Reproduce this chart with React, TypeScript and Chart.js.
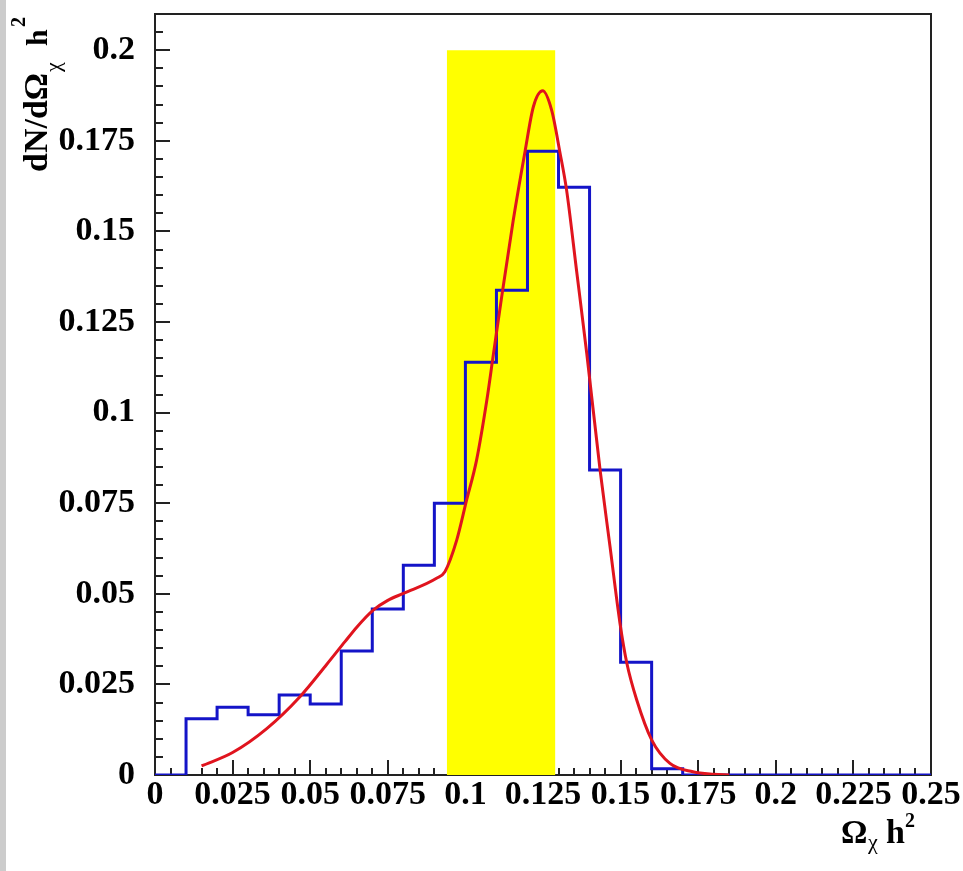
import React, { useEffect, useRef } from "react";
import { Chart, registerables } from "chart.js";

Chart.register(...registerables);

// ---- Data ----
const binLowEdges = [
  0.0, 0.01, 0.02, 0.03, 0.04, 0.05, 0.06, 0.07, 0.08, 0.09, 0.1, 0.11, 0.12,
  0.13, 0.14, 0.15, 0.16, 0.17, 0.18, 0.19, 0.2, 0.21, 0.22, 0.23, 0.24,
];
const binContents = [
  0, 0.0155, 0.0187, 0.0166, 0.0221, 0.0196, 0.0342, 0.0458, 0.0579, 0.075,
  0.1139, 0.1338, 0.1721, 0.1622, 0.0842, 0.0311, 0.0017, 0, 0, 0, 0, 0, 0, 0, 0,
];
const histUpperEdge = 0.25;

const fitX = [
  0.015, 0.025, 0.036, 0.0467, 0.0553, 0.0612, 0.065, 0.0703, 0.075, 0.08,
  0.0907, 0.0934, 0.0972, 0.1004, 0.1036, 0.1069, 0.109, 0.1117, 0.1154, 0.1192,
  0.1219, 0.1249, 0.1278, 0.1305, 0.1326, 0.1358, 0.1391, 0.1434, 0.1466, 0.1498,
  0.152, 0.1552, 0.16, 0.1659, 0.1733, 0.18, 0.185,
];
const fitY = [
  0.0025, 0.0062, 0.0128, 0.0216, 0.0305, 0.0368, 0.0408, 0.0455, 0.0482, 0.0501,
  0.0543, 0.0561, 0.0648, 0.0759, 0.0869, 0.1034, 0.116, 0.132, 0.153, 0.172,
  0.1844, 0.1888, 0.1834, 0.1716, 0.1614, 0.1393, 0.1163, 0.0841, 0.063, 0.0419,
  0.0309, 0.0207, 0.0097, 0.0032, 0.0009, 0.0002, 0,
];

const bandRange = [0.094, 0.129];
const bandTop = 0.2;

const xTickValues = [0, 0.025, 0.05, 0.075, 0.1, 0.125, 0.15, 0.175, 0.2, 0.225, 0.25];
const xTickLabels = ["0", "0.025", "0.05", "0.075", "0.1", "0.125", "0.15", "0.175", "0.2", "0.225", "0.25"];
const yTickValues = [0, 0.025, 0.05, 0.075, 0.1, 0.125, 0.15, 0.175, 0.2];
const yTickLabels = ["0", "0.025", "0.05", "0.075", "0.1", "0.125", "0.15", "0.175", "0.2"];

const xMin = 0;
const xMax = 0.25;
const yMin = 0;
const yMax = 0.21;
const minorStep = 0.005;

const SERIF = '"Liberation Serif", "Times New Roman", serif';

const rootFramePlugin = {
  id: "rootFrame",
  beforeDatasetsDraw(chart: any) {
    const { ctx, chartArea } = chart;
    const xs = chart.scales.x;
    const ys = chart.scales.y;
    ctx.save();
    ctx.strokeStyle = "#222";
    ctx.lineWidth = 2;
    ctx.strokeRect(chartArea.left, chartArea.top, chartArea.right - chartArea.left, chartArea.bottom - chartArea.top);
    ctx.lineWidth = 2;
    ctx.beginPath();
    const nx = Math.round((xMax - xMin) / minorStep);
    for (let k = 0; k <= nx; k++) {
      const v = xMin + k * minorStep;
      const px = Math.round(xs.getPixelForValue(v));
      const len = k % 5 === 0 ? 15 : 7;
      ctx.moveTo(px, chartArea.bottom);
      ctx.lineTo(px, chartArea.bottom - len);
    }
    const ny = Math.floor((yMax - yMin) / minorStep + 1e-6);
    for (let k = 0; k <= ny; k++) {
      const v = yMin + k * minorStep;
      const py = Math.round(ys.getPixelForValue(v));
      const len = k % 5 === 0 ? 15 : 8;
      ctx.moveTo(chartArea.left, py);
      ctx.lineTo(chartArea.left + len, py);
    }
    ctx.stroke();
    ctx.restore();
  },
  afterDraw(chart: any) {
    const { ctx } = chart;
    ctx.save();
    ctx.fillStyle = "#000";
    ctx.textAlign = "left";
    ctx.textBaseline = "alphabetic";
    // Y title (rotated)
    ctx.save();
    ctx.translate(47, 172);
    ctx.rotate(-Math.PI / 2);
    ctx.font = `bold 34px ${SERIF}`;
    ctx.fillText("dN/dΩ", 0, 0);
    ctx.font = `22px ${SERIF}`;
    ctx.fillText("χ", 100, 13);
    ctx.font = `bold 30px ${SERIF}`;
    ctx.fillText("h", 126, 0);
    ctx.font = `bold 20px ${SERIF}`;
    ctx.fillText("2", 145, -22);
    ctx.restore();
    // X title
    ctx.font = `bold 33px ${SERIF}`;
    ctx.fillText("Ω", 841, 843);
    ctx.font = `22px ${SERIF}`;
    ctx.fillText("χ", 868, 849);
    ctx.font = `bold 34px ${SERIF}`;
    ctx.fillText("h", 886, 843);
    ctx.font = `bold 20px ${SERIF}`;
    ctx.fillText("2", 905, 827);
    ctx.restore();
  },
};

export default function App() {
  const ref = useRef<HTMLCanvasElement | null>(null);

  useEffect(() => {
    if (!ref.current) return;
    const histPoints = binLowEdges.map((e, i) => ({ x: e, y: binContents[i] }));
    histPoints.push({ x: histUpperEdge, y: binContents[binContents.length - 1] });
    const fitPoints = fitX.map((x, i) => ({ x, y: fitY[i] }));
    const bandPoints = [
      { x: bandRange[0], y: bandTop },
      { x: bandRange[1], y: bandTop },
    ];

    const chart = new Chart(ref.current, {
      type: "line",
      data: {
        datasets: [
          {
            label: "fit",
            data: fitPoints,
            borderColor: "#e0141e",
            borderWidth: 3,
            pointRadius: 0,
            cubicInterpolationMode: "monotone",
            fill: false,
          },
          {
            label: "hist",
            data: histPoints,
            stepped: "before",
            borderColor: "#1414c8",
            borderWidth: 3,
            pointRadius: 0,
            fill: false,
          },
          {
            label: "band",
            data: bandPoints,
            borderWidth: 0,
            borderColor: "rgba(0,0,0,0)",
            backgroundColor: "#ffff00",
            pointRadius: 0,
            fill: "origin",
          },
        ],
      } as any,
      options: {
        responsive: false,
        devicePixelRatio: 1,
        animation: false,
        layout: { padding: { left: 0, top: 14, right: 32, bottom: 0 } },
        plugins: {
          legend: { display: false },
          tooltip: { enabled: false },
          title: { display: false },
        },
        scales: {
          x: {
            type: "linear",
            min: xMin,
            max: xMax,
            grid: { display: false, drawTicks: false },
            border: { display: false },
            afterBuildTicks: (s: any) => {
              s.ticks = xTickValues.map((v) => ({ value: v }));
            },
            afterFit: (s: any) => {
              s.height = 96;
              s.paddingLeft = 0;
              s.paddingRight = 0;
              s.paddingTop = 0;
              s.paddingBottom = 0;
            },
            ticks: {
              autoSkip: false,
              maxRotation: 0,
              padding: 0,
              color: "#000",
              font: { family: SERIF, size: 34, weight: "bold" },
              callback: (_v: any, i: number) => xTickLabels[i],
            },
          },
          y: {
            type: "linear",
            min: yMin,
            max: yMax,
            grid: { display: false, drawTicks: false },
            border: { display: false },
            afterBuildTicks: (s: any) => {
              s.ticks = yTickValues.map((v) => ({ value: v }));
            },
            afterFit: (s: any) => {
              s.width = 155;
              s.paddingLeft = 0;
              s.paddingRight = 0;
              s.paddingTop = 0;
              s.paddingBottom = 0;
            },
            ticks: {
              autoSkip: false,
              padding: 20,
              color: "#000",
              font: { family: SERIF, size: 34, weight: "bold" },
              callback: (_v: any, i: number) => yTickLabels[i],
            },
          },
        },
      } as any,
      plugins: [rootFramePlugin],
    });
    return () => chart.destroy();
  }, []);

  return (
    <div style={{ position: "fixed", left: 0, top: 0, width: 963, height: 871, background: "#fff" }}>
      <canvas ref={ref} width={963} height={871} style={{ display: "block", width: 963, height: 871 }} />
      <div style={{ position: "absolute", left: 0, top: 0, width: 6, height: 871, background: "#cccccc" }} />
    </div>
  );
}
